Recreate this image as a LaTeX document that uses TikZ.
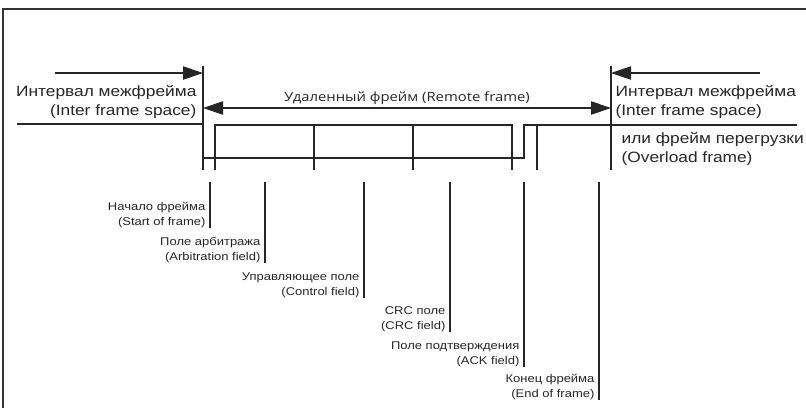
\documentclass[tikz,border=0pt]{standalone}
\usepackage{fontspec}
\setmainfont[FakeStretch=1.16]{Liberation Sans}
\newfontfamily\remotefont[FakeStretch=1.16]{Open Sans}
\usetikzlibrary{arrows.meta,positioning}

\begin{document}
\begin{tikzpicture}[x=0.75pt, y=-0.75pt, line width=0.9pt, draw=black!85,
  sig/.style={line width=0.9pt, black!85},
  tip/.style={Triangle[length=15pt, width=10pt]},
  span/.style={line width=0.9pt, black!85, -{Triangle[length=15pt, width=10pt]}},
  bigtext/.style={font=\fontsize{11.2}{14.2}\selectfont, inner sep=0pt, text=black!85},
  smalltext/.style={font=\fontsize{8.4}{11.2}\selectfont, inner sep=0pt, align=right, anchor=south east, text=black!85}]
\useasboundingbox (0,0) rectangle (806,408);
% Outer frame
\draw [line width=1.6pt, black!80] (3,408) -- (3,9) -- (806,9);

% Frame boundaries
\coordinate (startTop) at (203,66);
\coordinate (startBot) at (203,170);
\coordinate (endTop) at (611,66);
\coordinate (endBot) at (611,170);
\draw [sig] (startTop) -- (startBot);
\draw [sig] (endTop) -- (endBot);

% Interframe space labels
\node (ifsL) at (197,102) [bigtext, anchor=east, align=right] {Интервал межфрейма\\(Inter frame space)};
\node (ifsR) at (615,102) [bigtext, anchor=west, align=left] {Интервал межфрейма\\(Inter frame space)};
\node (ovl) at (621,149) [bigtext, anchor=west, align=left] {или фрейм перегрузки\\(Overload frame)};

% Arrows
\coordinate (ifsLtail) at (55,73);
\coordinate (ifsRtail) at (760,73);
\draw [span] (ifsLtail) -- (ifsLtail -| startTop);
\draw [span] (ifsRtail) -- (ifsRtail -| endTop);
\coordinate (remL) at (203,108);
\coordinate (remR) at (611,108);
\draw [sig, {Triangle[length=15pt, width=10pt]}-{Triangle[length=15pt, width=10pt]}] (remL) -- (remR);
\node (remote) at (407,98) [font=\remotefont\fontsize{9.6}{12}\selectfont, inner sep=0pt, text=black!85] {Удаленный фрейм (Remote frame)};

% Bus levels
\draw [sig] (17,124) -- (startTop |- 0,124);
\draw [sig] (215,170) -- (215,125) -- (512,125) -- (512,170);
\draw [sig] (startTop |- 0,158) -- (524,158) -- (524,125) -- (797,125);
\foreach \x in {314,413,537}
  \draw [sig] (\x,125) -- (\x,170);

% Fields
\node (sof) at (206,228) [smalltext] {Начало фрейма\\(Start of frame)};
\node (arb) at (261,263) [smalltext] {Поле арбитража\\(Arbitration field)};
\node (ctl) at (360,298) [smalltext] {Управляющее поле\\(Control field)};
\node (crc) at (446,332) [smalltext] {CRC поле\\(CRC field)};
\node (ack) at (520,367) [smalltext] {Поле подтверждения\\(ACK field)};
\node (eof) at (595,400) [smalltext] {Конец фрейма\\(End of frame)};

\coordinate (sofTop) at (210,182);
\coordinate (arbTop) at (265,182);
\coordinate (ctlTop) at (364,182);
\coordinate (crcTop) at (450,182);
\coordinate (ackTop) at (524,182);
\coordinate (eofTop) at (599,182);
\foreach \f in {sof,arb,ctl,crc,ack,eof}
  \draw [sig] (\f Top) -- (\f Top |- \f.south);
\end{tikzpicture}
\end{document}
